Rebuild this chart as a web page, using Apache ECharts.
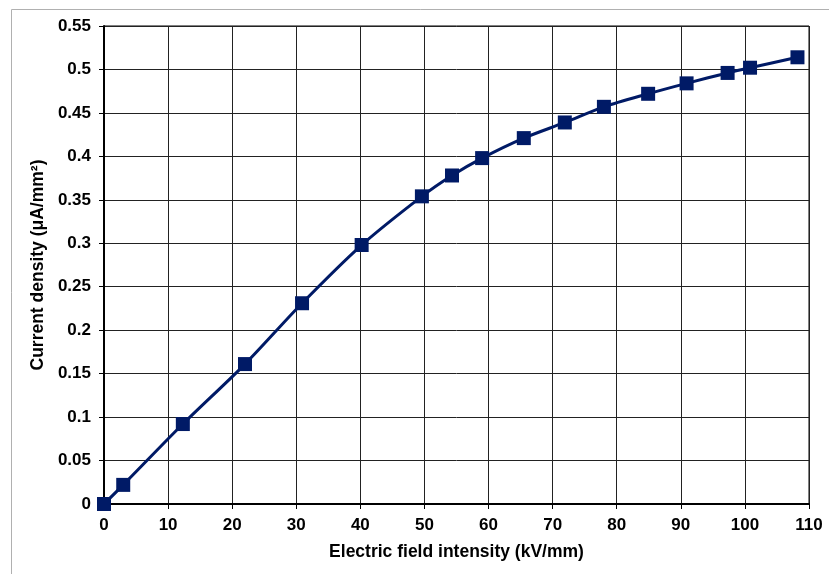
<!DOCTYPE html>
<html><head><meta charset="utf-8">
<script src="https://cdn.jsdelivr.net/npm/echarts@6/dist/echarts.min.js"></script>
<style>html,body{margin:0;padding:0;background:#fff}#c{width:829px;height:574px}</style>
</head><body><div id="c"></div>
<script>
const fieldIntensity = [0, 3, 12.3, 22, 30.9, 40.2, 49.6, 54.3, 59, 65.5, 71.9, 78, 84.9, 90.9, 97.3, 100.8, 108.2];
const currentDensity = [0, 0.022, 0.092, 0.161, 0.231, 0.298, 0.354, 0.378, 0.398, 0.421, 0.439, 0.457, 0.472, 0.484, 0.496, 0.502, 0.514];
const xTitle = 'Electric field intensity (kV/mm)';
const yTitle = 'Current density (μA/mm²)';

const chart = echarts.init(document.getElementById('c'));
const font = 'Liberation Sans, Arial, sans-serif';
chart.setOption({
  animation: false,
  graphic: [{type:'rect', shape:{x:11.5,y:9.5,width:900,height:700}, style:{fill:'none',stroke:'#b0b0b0',lineWidth:1}, z:-1}],
  grid: {left:104, right:20, top:26, bottom:70, show:true, borderColor:'#000', borderWidth:1},
  xAxis: {
    type:'value', min:0, max:110, interval:10,
    name:xTitle, nameLocation:'middle', nameGap:39,
    nameTextStyle:{fontFamily:font, fontWeight:'bold', fontSize:17.5, color:'#000'},
    axisLine:{show:true, onZero:false, lineStyle:{color:'#000', width:2}},
    axisTick:{show:true, length:5, lineStyle:{color:'#000'}},
    axisLabel:{fontFamily:font, fontWeight:'bold', fontSize:17, color:'#000', margin:13},
    splitLine:{show:true, lineStyle:{color:'#222', width:1}}
  },
  yAxis: {
    type:'value', min:0, max:0.55, interval:0.05,
    name:yTitle, nameLocation:'middle', nameGap:53,
    nameTextStyle:{fontFamily:font, fontWeight:'bold', fontSize:17.5, color:'#000'},
    axisLine:{show:true, onZero:false, lineStyle:{color:'#000', width:2}},
    axisTick:{show:true, length:5, lineStyle:{color:'#000'}},
    axisLabel:{fontFamily:font, fontWeight:'bold', fontSize:17, color:'#000', margin:13,
      formatter: v => String(+v.toFixed(2))},
    splitLine:{show:true, lineStyle:{color:'#222', width:1}}
  },
  series: [{
    type:'line', smooth:0.3,
    data: fieldIntensity.map((x,i)=>[x,currentDensity[i]]),
    symbol:'rect', symbolSize:14,
    itemStyle:{color:'#001a66'},
    lineStyle:{color:'#001a66', width:3},
    clip:false
  }]
});
</script></body></html>
